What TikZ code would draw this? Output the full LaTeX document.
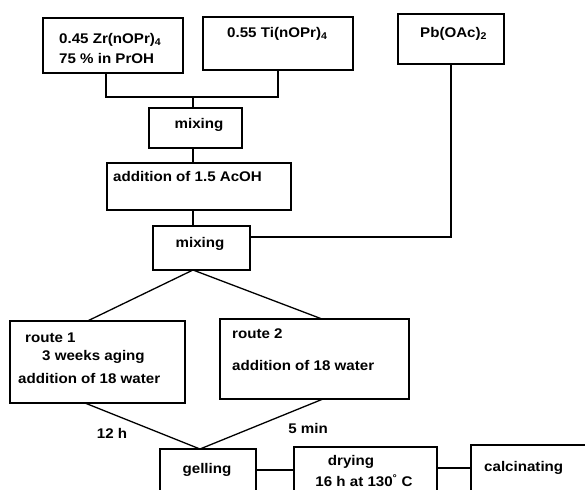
\documentclass[tikz,border=0pt]{standalone}
\usepackage{fontspec}
\setmainfont{Liberation Sans}[FakeStretch=1.08]
\usetikzlibrary{calc}
\tikzset{
  box/.style={draw, line width=1.3pt, rectangle, inner sep=0pt, outer sep=0pt},
  txt/.style={inner sep=0pt, font=\fontsize{14}{20}\selectfont\bfseries},
  wire/.style={line width=1.3pt}
}
\begin{document}
\begin{tikzpicture}[x=1pt,y=-1pt]
\useasboundingbox (0,0) rectangle (585,489);
\fill[white] (0,0) rectangle (585,489);
\clip (0,0) rectangle (585,489);
% boxes
\node[box, minimum width=140pt, minimum height=55pt] (zr) at (113,45.5) {};
\node[box, minimum width=150pt, minimum height=53pt] (ti) at (278,43.5) {};
\node[box, minimum width=106pt, minimum height=50pt] (pb) at (451,39) {};
\node[box, minimum width=93pt, minimum height=40pt] (mix1) at (195.5,128) {};
\node[box, minimum width=184pt, minimum height=47pt] (add) at (199,186.5) {};
\node[box, minimum width=97pt, minimum height=44pt] (mix2) at (201.5,248) {};
\node[box, minimum width=175pt, minimum height=82pt] (r1) at (97.5,362) {};
\node[box, minimum width=189pt, minimum height=80pt] (r2) at (314.5,359) {};
\node[box, minimum width=96pt, minimum height=42pt] (gel) at (208,470) {};
\node[box, minimum width=143pt, minimum height=47pt] (dry) at (365.5,470.5) {};
\node[box, minimum width=129pt, minimum height=46pt] (calc) at (535.5,468) {};
% texts
\node[txt, anchor=west, align=left] (zrt) at (59,48) {0.45 Zr(nOPr)\textsubscript{4}\\75 \% in PrOH};
\node[txt, anchor=west] (tit) at (227,34) {0.55 Ti(nOPr)\textsubscript{4}};
\node[txt, anchor=west] (pbt) at (420,34) {Pb(OAc)\textsubscript{2}};
\node[txt] (mix1t) at (199,125) {mixing};
\node[txt, anchor=west] (addt) at (113,176) {addition of 1.5 AcOH};
\node[txt] (mix2t) at (200,244) {mixing};
\node[txt, anchor=west] (r1a) at (25,338) {route 1};
\node[txt, anchor=west] (r1b) at (42,357) {3 weeks aging};
\node[txt, anchor=west] (r1c) at (18,378) {addition of 18 water};
\node[txt, anchor=west] (r2a) at (232,334) {route 2};
\node[txt, anchor=west] (r2b) at (232,365) {addition of 18 water};
\node[txt] (t12) at (112,433) {12 h};
\node[txt] (t5) at (308,428) {5 min};
\node[txt] (gelt) at (207,470) {gelling};
\node[txt] (dryt1) at (351,462) {drying};
\node[txt] (dryt2) at (364,481) {16 h at 130\textsuperscript{°} C};
\node[txt, anchor=west] (calct) at (484,468) {calcinating};
% connectors
\coordinate (j1) at (193,97);
\draw[wire] ([xshift=-7pt]zr.south) |- (j1) -| (ti.south);
\draw[wire] (j1) -- (j1 |- mix1.north);
\draw[wire] (j1 |- mix1.south) -- (j1 |- add.north);
\draw[wire] (j1 |- add.south) -- (j1 |- mix2.north);
\draw[wire] (pb.south) |- ([yshift=11pt]mix2.east);
\draw[wire] ([xshift=-10pt]r1.north) -- (j1 |- mix2.south) -- ([xshift=7.5pt]r2.north);
\draw[wire] ([xshift=-12.5pt]r1.south) -- ([xshift=-8pt]gel.north) -- ([xshift=8.5pt]r2.south);
\draw[wire] (gel.east) -- (gel.east -| dry.west);
\draw[wire] (dry.east |- calc.west) -- (calc.west);
\end{tikzpicture}
\end{document}
